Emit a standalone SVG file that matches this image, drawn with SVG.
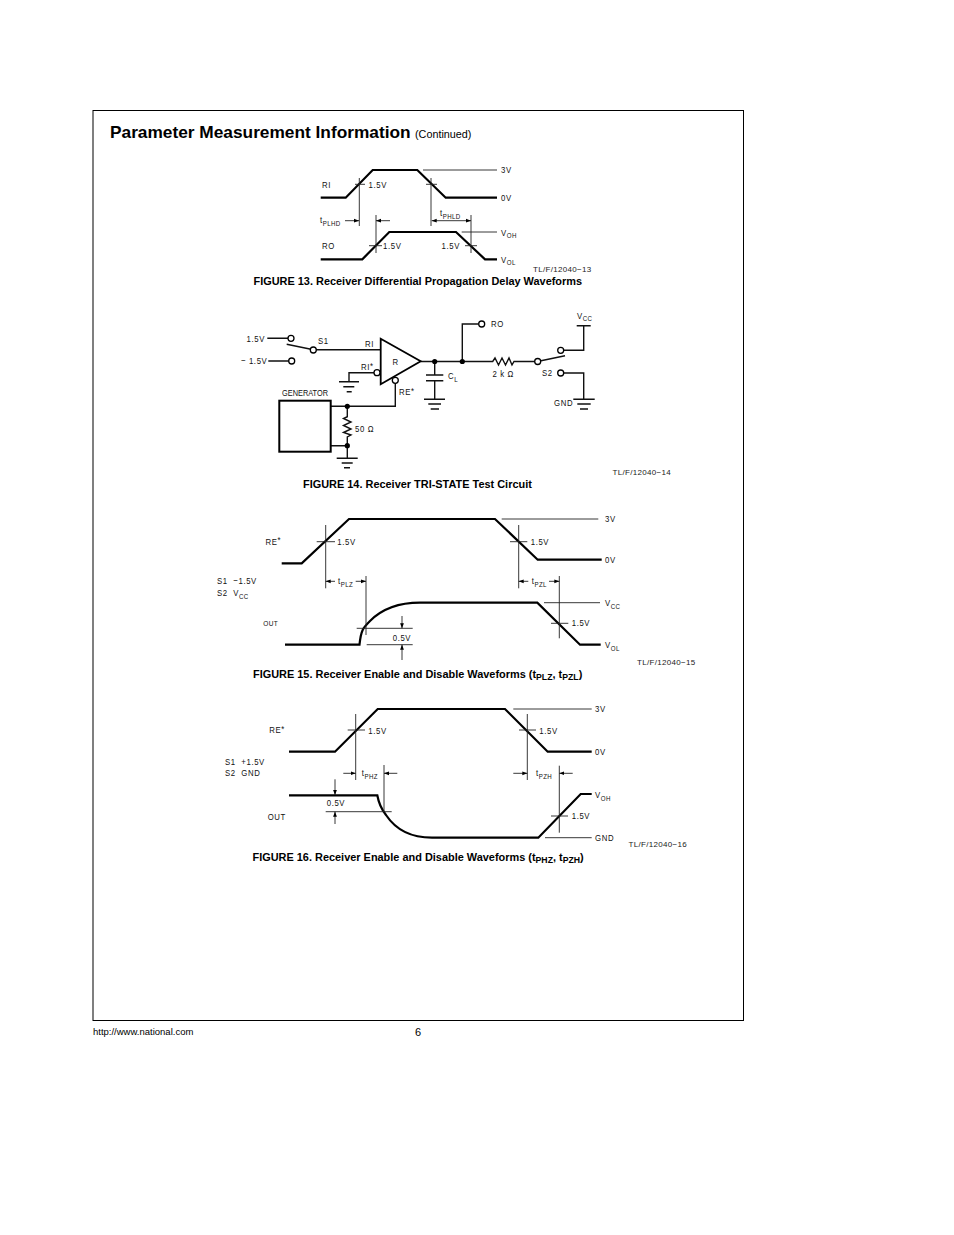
<svg xmlns="http://www.w3.org/2000/svg" width="954" height="1235" viewBox="0 0 954 1235">
<style>
text{font-family:"Liberation Sans",Arial,sans-serif;fill:#000}
.l{font-size:9.500px;letter-spacing:.75px;fill:#111}
.s{font-size:7.500px;letter-spacing:.4px}
.cap{font-size:10.930px;font-weight:bold}
.tl{font-size:8px;letter-spacing:.3px;fill:#222}
.w{fill:none;stroke:#000;stroke-width:2.2}
.t{fill:none;stroke:#222;stroke-width:.9}
.c{fill:none;stroke:#111;stroke-width:1.4}
.o{fill:#fff;stroke:#000;stroke-width:1.3}
.d{fill:#000}
</style>
<defs>
<marker id="a" markerUnits="userSpaceOnUse" markerWidth="6" markerHeight="5" refX="5" refY="2.5" orient="auto-start-reverse"><path d="M0,.6L5,2.5L0,4.4z" fill="#000"/></marker>
</defs>
<rect width="954" height="1235" fill="#fff"/>
<rect id="frame" x="93" y="110.500" width="650.500" height="910" fill="none" stroke="#000" stroke-width="1"/>
<g id="page-text">
<text x="110" y="138" font-size="17.300" font-weight="bold">Parameter Measurement Information</text>
<text x="415" y="138" font-size="10.800">(Continued)</text>
<text x="93" y="1035" font-size="9.500">http://www.national.com</text>
<text x="415" y="1036" font-size="11">6</text>
</g>

<g id="fig13">
<g id="fig13-waves">
<path class="w" d="M320.700,197.700H345.700L372.700,170H417.300L445.700,197.700H497"/>
<path class="w" d="M320.700,259.300H362.300L389.300,232H456L485,259.300H497"/>
<path class="t" d="M423,170H497M461.700,232H497M359.300,178V226M355,184.300H365M431,178V226M426,184.300H437M376,215V253M369,245.700H382M471,215V253M465,245.700H477"/>
<path class="t" marker-end="url(#a)" d="M345,220.700H359"/>
<path class="t" marker-end="url(#a)" d="M390,220.700H376"/>
<path class="t" marker-start="url(#a)" marker-end="url(#a)" d="M431.700,220.700H471"/>
</g>
<g id="fig13-labels">
<text class="l" transform="translate(322,187.500) scale(.82,1)">RI</text>
<text class="l" transform="translate(368.500,187.500) scale(.82,1)">1.5V</text>
<text class="l" transform="translate(501,173) scale(.82,1)">3V</text>
<text class="l" transform="translate(501,201) scale(.82,1)">0V</text>
<text class="l" transform="translate(320,223) scale(.82,1)">t<tspan class="s" dy="2.500">PLHD</tspan></text>
<text class="l" transform="translate(440,216) scale(.82,1)">t<tspan class="s" dy="2.500">PHLD</tspan></text>
<text class="l" transform="translate(322,249) scale(.82,1)">RO</text>
<text class="l" transform="translate(383,249) scale(.82,1)">1.5V</text>
<text class="l" transform="translate(441.500,249) scale(.82,1)">1.5V</text>
<text class="l" transform="translate(501,235.500) scale(.82,1)">V<tspan class="s" dy="2.500">OH</tspan></text>
<text class="l" transform="translate(501,262.500) scale(.82,1)">V<tspan class="s" dy="2.500">OL</tspan></text>
<text class="tl" x="533" y="271.500">TL/F/12040−13</text>
<text class="cap" x="253.500" y="285">FIGURE 13. Receiver Differential Propagation Delay Waveforms</text>
</g>
</g>

<g id="connectors">
<path class="c" d="M267.300,338.300H288.300M268.300,361H289M286.700,344.300L311,349.300M316,349.700H380.700"/>
<path class="c" d="M420.700,361.500H492.700L495,358L498.500,365L502,358L505.500,365L509,358L512,365L514,361.500H535"/>
<path class="c" d="M541,360.700L565,355.700M564,350.300H583.700V325.700M564,373H583.700V399.300M462.300,361.500V324H478.700"/>
<path class="c" d="M434.700,361.500V375M434.700,380.700V399.300"/>
<path class="c" d="M374,372.700H349V381.700M395.300,383.300V406.300H331M331,445.700H347.300"/>
<path class="c" d="M347.300,406.300V416.700L343.500,418.500L351,422L343.500,425.500L351,429L343.500,432.500L351,435L347.300,437V458.300"/>
</g>
<g id="fig14">
<g id="terminals">
<circle class="o" cx="291" cy="338.300" r="3"/><circle class="o" cx="291.700" cy="361" r="3"/><circle class="o" cx="313.300" cy="350" r="3"/>
<circle class="o" cx="481.700" cy="324" r="3"/><circle class="o" cx="537.700" cy="361.500" r="3"/><circle class="o" cx="560.700" cy="350.300" r="3"/><circle class="o" cx="560.700" cy="373" r="3"/>
<circle class="d" cx="434.700" cy="361.500" r="2.600"/><circle class="d" cx="462.300" cy="361.500" r="2.600"/><circle class="d" cx="347.300" cy="406.300" r="2.600"/><circle class="d" cx="347.300" cy="445.700" r="2.600"/>
</g>
<g id="receiver">
<path d="M380.700,338.700L420.700,361.300L380.700,384.300Z" fill="#fff" stroke="#000" stroke-width="1.800"/>
<circle class="o" cx="377" cy="372.700" r="3"/><circle class="o" cx="395.300" cy="380.300" r="3"/>
<text class="l" transform="translate(392.500,364.800) scale(.82,1)">R</text>
</g>
<g id="generator">
<rect x="279.300" y="400.700" width="51.400" height="51" fill="#fff" stroke="#000" stroke-width="2"/>
<text class="l" transform="translate(282,395.500) scale(.82,1)" style="font-size:9px;letter-spacing:0">GENERATOR</text>
</g>
<g id="capacitor"><path class="c" d="M426,375H443.300M426,380.700H443.300"/></g>
<g id="grounds"><path class="c" d="M339,381.700H359M343.300,386.700H354.300M346.700,391.700H351.700M336.700,458.300H357.700M341.700,463H352.700M344,467.700H350M424,399.300H445M428.300,404H441M430.700,409H439M573.300,399.300H594.700M577.300,404H590.700M580,409H588M576.700,325.700H590.700"/></g>
<g id="fig14-labels">
<text class="l" transform="translate(246.500,341.500) scale(.82,1)">1.5V</text>
<text class="l" transform="translate(241,364.200) scale(.82,1)">− 1.5V</text>
<text class="l" transform="translate(318,344) scale(.82,1)">S1</text>
<text class="l" transform="translate(365,347.300) scale(.82,1)">RI</text>
<text class="l" transform="translate(361,370) scale(.82,1)">RI<tspan dy="-1.500">*</tspan></text>
<text class="l" transform="translate(399,395) scale(.82,1)">RE<tspan dy="-1.500">*</tspan></text>
<text class="l" transform="translate(355,432) scale(.82,1)">50 Ω</text>
<text class="l" transform="translate(448,379) scale(.82,1)">C<tspan class="s" dy="2.500">L</tspan></text>
<text class="l" transform="translate(491,327) scale(.82,1)">RO</text>
<text class="l" transform="translate(492.500,376.500) scale(.82,1)">2 k Ω</text>
<text class="l" transform="translate(542,376) scale(.82,1)">S2</text>
<text class="l" transform="translate(554,406) scale(.82,1)">GND</text>
<text class="l" transform="translate(577,318.500) scale(.82,1)">V<tspan class="s" dy="2.500">CC</tspan></text>
<text class="tl" x="612.500" y="475">TL/F/12040−14</text>
<text class="cap" x="303" y="488">FIGURE 14. Receiver TRI-STATE Test Circuit</text>
</g>
</g>

<g id="fig15">
<g id="fig15-waves">
<path class="w" d="M281.700,563.300H301.700L349,519H495L537.700,559.700H601.700"/>
<path class="w" d="M285,644.700H359.500C361,630 363,628 370,621C380,611 395,602.700 420,602.700H537.300L580,644.700H600.700"/>
<path class="t" d="M501.700,519H598.300M325.700,525V588.300M316.700,541.700H335M518.700,525V588.300M510,541.700H527.300M366,576V635M559.300,576V638.300M544,602.700H600M551,623.300H568.300M356.700,628.300H412.700M366.700,644.700H412.700"/>
<path class="t" marker-end="url(#a)" d="M335,581.300H325.700"/>
<path class="t" marker-end="url(#a)" d="M355.700,581.300H366"/>
<path class="t" marker-end="url(#a)" d="M528.300,581.300H518.700"/>
<path class="t" marker-end="url(#a)" d="M549,581.300H559.300"/>
<path class="t" marker-end="url(#a)" d="M402,616V628.300"/>
<path class="t" marker-end="url(#a)" d="M402,660V644.700"/>
</g>
<g id="fig15-labels">
<text class="l" transform="translate(265.500,544.700) scale(.82,1)">RE<tspan dy="-1.500">*</tspan></text>
<text class="l" transform="translate(337.300,544.700) scale(.82,1)">1.5V</text>
<text class="l" transform="translate(530.700,544.700) scale(.82,1)">1.5V</text>
<text class="l" transform="translate(605,522) scale(.82,1)">3V</text>
<text class="l" transform="translate(605,562.700) scale(.82,1)">0V</text>
<text class="l" transform="translate(217,584.300) scale(.82,1)" xml:space="preserve">S1  −1.5V</text>
<text class="l" transform="translate(217,596) scale(.82,1)" xml:space="preserve">S2  V<tspan class="s" dy="2.500">CC</tspan></text>
<text class="l" transform="translate(338,584) scale(.82,1)">t<tspan class="s" dy="2.500">PLZ</tspan></text>
<text class="l" transform="translate(531.700,584) scale(.82,1)">t<tspan class="s" dy="2.500">PZL</tspan></text>
<text class="l" transform="translate(263.300,626) scale(.82,1)" style="font-size:8px;letter-spacing:.4px">OUT</text>
<text class="l" transform="translate(392.700,641) scale(.82,1)">0.5V</text>
<text class="l" transform="translate(571.700,626.300) scale(.82,1)">1.5V</text>
<text class="l" transform="translate(605,606) scale(.82,1)">V<tspan class="s" dy="2.500">CC</tspan></text>
<text class="l" transform="translate(605,648) scale(.82,1)">V<tspan class="s" dy="2.500">OL</tspan></text>
<text class="tl" x="637" y="665">TL/F/12040−15</text>
<text class="cap" x="253" y="678">FIGURE 15. Receiver Enable and Disable Waveforms (t<tspan font-size="8.700" dy="2">PLZ</tspan><tspan dy="-2">, t</tspan><tspan font-size="8.700" dy="2">PZL</tspan><tspan dy="-2">)</tspan></text>
</g>
</g>

<g id="fig16">
<g id="fig16-waves">
<path class="w" d="M289,751.700H335L377.700,709H505L547.700,751.700H591.700"/>
<path class="w" d="M289,795.300H377.300C379,805 382,810 386,815C394,827 408,837.700 432,837.700H538.300L580.700,794H591.700"/>
<path class="t" d="M513.300,709H591.700M355.700,714V780M347.700,730H365M527.300,714V780M519,730H536M384,765V811.700M559.300,765.700V832.700M545,837.700H591.700M551,816H568M325.700,811.700H391.700"/>
<path class="t" marker-end="url(#a)" d="M343.300,773.300H355.700"/>
<path class="t" marker-end="url(#a)" d="M397.300,773.300H384"/>
<path class="t" marker-end="url(#a)" d="M513.300,773.300H527.300"/>
<path class="t" marker-end="url(#a)" d="M572.700,773.300H559.300"/>
<path class="t" marker-end="url(#a)" d="M335,779.300V795"/>
<path class="t" marker-end="url(#a)" d="M335,824V811.700"/>
</g>
<g id="fig16-labels">
<text class="l" transform="translate(269.300,733) scale(.82,1)">RE<tspan dy="-1.500">*</tspan></text>
<text class="l" transform="translate(368.300,733.500) scale(.82,1)">1.5V</text>
<text class="l" transform="translate(539.300,733.500) scale(.82,1)">1.5V</text>
<text class="l" transform="translate(595,712) scale(.82,1)">3V</text>
<text class="l" transform="translate(595,754.700) scale(.82,1)">0V</text>
<text class="l" transform="translate(225,765.300) scale(.82,1)" xml:space="preserve">S1  +1.5V</text>
<text class="l" transform="translate(225,776.300) scale(.82,1)" xml:space="preserve">S2  GND</text>
<text class="l" transform="translate(361.700,776) scale(.82,1)">t<tspan class="s" dy="2.500">PHZ</tspan></text>
<text class="l" transform="translate(536,776) scale(.82,1)">t<tspan class="s" dy="2.500">PZH</tspan></text>
<text class="l" transform="translate(326.700,806) scale(.82,1)">0.5V</text>
<text class="l" transform="translate(267.700,819.500) scale(.82,1)">OUT</text>
<text class="l" transform="translate(571.700,819) scale(.82,1)">1.5V</text>
<text class="l" transform="translate(595,798) scale(.82,1)">V<tspan class="s" dy="2.500">OH</tspan></text>
<text class="l" transform="translate(595,841) scale(.82,1)">GND</text>
<text class="tl" x="628.500" y="847">TL/F/12040−16</text>
<text class="cap" x="252.500" y="861">FIGURE 16. Receiver Enable and Disable Waveforms (t<tspan font-size="8.700" dy="2">PHZ</tspan><tspan dy="-2">, t</tspan><tspan font-size="8.700" dy="2">PZH</tspan><tspan dy="-2">)</tspan></text>
</g>
</g>
</svg>
